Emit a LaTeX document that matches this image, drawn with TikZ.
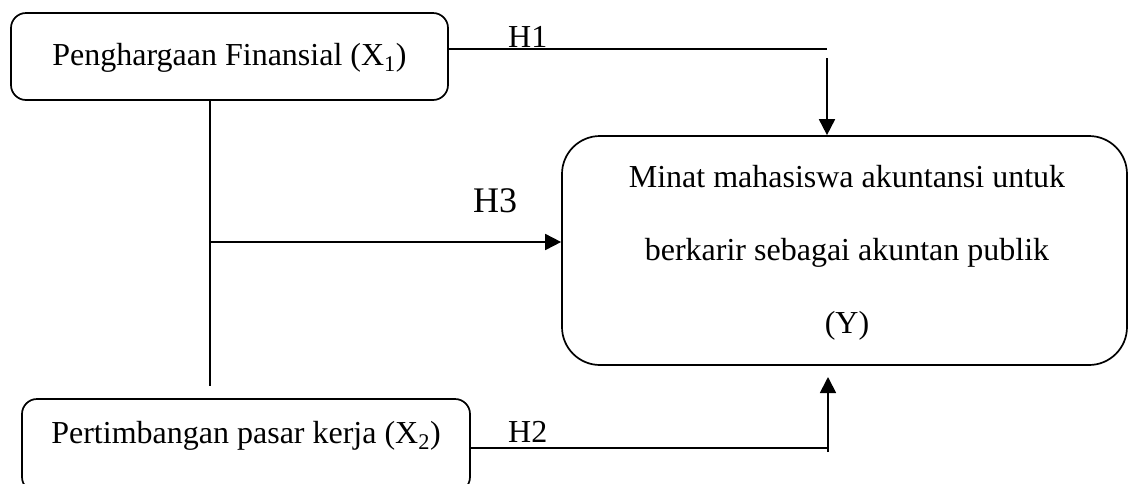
\documentclass[tikz,border=0pt]{standalone}
\usepackage{fontspec}
\setmainfont{Liberation Serif}
\usetikzlibrary{arrows.meta}
\begin{document}
\begin{tikzpicture}[x=1pt,y=-1pt,
  box/.style={draw, line width=1.7pt, inner sep=0pt},
  lbl/.style={font=\fontsize{32}{38}\selectfont, inner sep=0pt, anchor=base},
  hlbl/.style={font=\fontsize{32}{38}\selectfont, inner sep=0pt, anchor=base west},
  conn/.style={line width=1.8pt},
  arr/.style={conn, -{Triangle[length=16pt,width=16pt]}}]
\useasboundingbox (0,0) rectangle (1128,483);
% boxes
\node[box, rounded corners=15pt, minimum width=437pt, minimum height=87pt] (x1) at (229.5,56.5) {};
\node[box, rounded corners=38pt, minimum width=565pt, minimum height=229pt] (y) at (844.5,250.5) {};
\node[box, rounded corners=15pt, minimum width=448pt, minimum height=93pt] (x2) at (246,445.5) {};
% texts
\node[lbl] (x1t) at (229.5,65) {Penghargaan Finansial (X\textsubscript{1})};
\node[lbl] (x2t) at (246,443) {Pertimbangan pasar kerja (X\textsubscript{2})};
\node[lbl] (y1) at (847,187) {Minat mahasiswa akuntansi untuk};
\node[lbl] (y2) at (847,260) {berkarir sebagai akuntan publik};
\node[lbl] (y3) at (847,333) {(Y)};
\node[hlbl] (h1) at (508,47) {H1};
\node[hlbl] (h2) at (508,442) {H2};
\node[hlbl, font=\fontsize{36}{42}\selectfont] (h3) at (473,212) {H3};
% coordinates
\coordinate (h1end) at (827,49);
\coordinate (h1top) at (827,58);
\coordinate (vbot) at (210,386);
\coordinate (h3s) at (210,242);
\coordinate (h2end) at (828,448);
\coordinate (h2bot) at (828,452);
\coordinate (h2tip) at (828,377);
% connectors
\draw[conn] (x1.east |- h1end) -- (h1end);
\draw[arr] (h1top) -- (y.north -| h1top);
\draw[conn] (x1.south -| vbot) -- (vbot);
\draw[arr] (h3s) -- (h3s -| y.west);
\draw[conn] (x2.east |- h2end) -- (h2end);
\draw[arr] (h2bot) -- (h2tip);
\end{tikzpicture}
\end{document}
